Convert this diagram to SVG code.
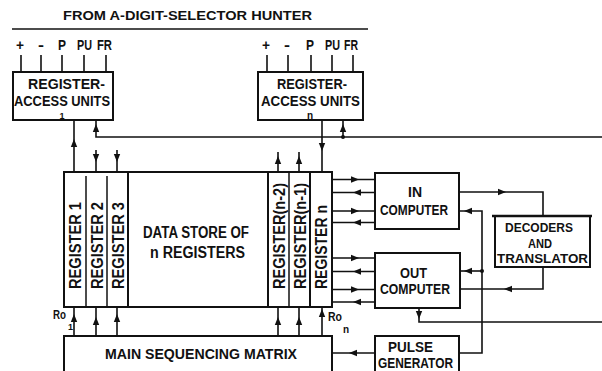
<svg xmlns="http://www.w3.org/2000/svg" width="602" height="371" viewBox="0 0 602 371">
<style>
.ln{stroke:#111;stroke-width:1.6;fill:none}
.bx{stroke:#111;stroke-width:2;fill:none}
.dv{stroke:#111;stroke-width:1.5;fill:none}
.t{font-family:"Liberation Sans",Arial,sans-serif;font-weight:bold;fill:#111}
</style>
<defs>
<path id="ar" d="M4,0 L-4,-3.2 L-4,3.2 Z" fill="#111"/>
</defs>
<rect width="602" height="371" fill="#fff"/>

<g id="title">
<text class="t" x="63" y="20" font-size="12" textLength="249" lengthAdjust="spacingAndGlyphs">FROM A-DIGIT-SELECTOR HUNTER</text>
<line class="ln" x1="12" y1="29" x2="368" y2="29"/>
</g>

<g id="rau1">
<text class="t" font-size="15" x="16" y="50" textLength="8" lengthAdjust="spacingAndGlyphs">+</text>
<text class="t" font-size="15" x="38" y="50" textLength="6" lengthAdjust="spacingAndGlyphs">-</text>
<text class="t" font-size="15" x="58" y="50" textLength="8" lengthAdjust="spacingAndGlyphs">P</text>
<text class="t" font-size="15" x="77" y="50" textLength="15" lengthAdjust="spacingAndGlyphs">PU</text>
<text class="t" font-size="15" x="97" y="50" textLength="15" lengthAdjust="spacingAndGlyphs">FR</text>
<rect class="bx" x="13" y="72" width="100" height="48"/>
<text class="t" font-size="15" x="28" y="89" textLength="77" lengthAdjust="spacingAndGlyphs">REGISTER-</text>
<text class="t" font-size="15" x="14" y="106" textLength="96" lengthAdjust="spacingAndGlyphs">ACCESS UNITS</text>
<text class="t" font-size="9" x="62" y="118.5" text-anchor="middle">1</text>
</g>

<g id="raun">
<text class="t" font-size="15" x="262" y="50" textLength="8" lengthAdjust="spacingAndGlyphs">+</text>
<text class="t" font-size="15" x="284" y="50" textLength="6" lengthAdjust="spacingAndGlyphs">-</text>
<text class="t" font-size="15" x="306" y="50" textLength="8" lengthAdjust="spacingAndGlyphs">P</text>
<text class="t" font-size="15" x="325" y="50" textLength="15" lengthAdjust="spacingAndGlyphs">PU</text>
<text class="t" font-size="15" x="344" y="50" textLength="14" lengthAdjust="spacingAndGlyphs">FR</text>
<rect class="bx" x="258" y="72" width="105" height="48"/>
<text class="t" font-size="15" x="277" y="89" textLength="70" lengthAdjust="spacingAndGlyphs">REGISTER-</text>
<text class="t" font-size="15" x="261" y="106" textLength="99" lengthAdjust="spacingAndGlyphs">ACCESS UNITS</text>
<text class="t" font-size="10" x="310" y="118.5" text-anchor="middle">n</text>
</g>

<g id="datastore">
<rect class="bx" x="64" y="172" width="268" height="135"/>
<line class="dv" x1="86" y1="176" x2="86" y2="307"/>
<line class="dv" x1="107" y1="176" x2="107" y2="307"/>
<line class="bx" x1="128" y1="172" x2="128" y2="307"/>
<line class="bx" x1="268" y1="172" x2="268" y2="307"/>
<line class="dv" x1="289" y1="172" x2="289" y2="307"/>
<line class="bx" x1="310" y1="172" x2="310" y2="307"/>
<text class="t" font-size="16" transform="translate(81,289) rotate(-90)" textLength="87" lengthAdjust="spacingAndGlyphs">REGISTER 1</text>
<text class="t" font-size="16" transform="translate(102.5,289) rotate(-90)" textLength="87" lengthAdjust="spacingAndGlyphs">REGISTER 2</text>
<text class="t" font-size="16" transform="translate(123.5,289) rotate(-90)" textLength="87" lengthAdjust="spacingAndGlyphs">REGISTER 3</text>
<text class="t" font-size="16" transform="translate(284.5,289) rotate(-90)" textLength="106" lengthAdjust="spacingAndGlyphs">REGISTER(n-2)</text>
<text class="t" font-size="16" transform="translate(305.5,289) rotate(-90)" textLength="106" lengthAdjust="spacingAndGlyphs">REGISTER(n-1)</text>
<text class="t" font-size="16" transform="translate(327,289) rotate(-90)" textLength="84" lengthAdjust="spacingAndGlyphs">REGISTER n</text>
<text class="t" font-size="16" x="143" y="238" textLength="106" lengthAdjust="spacingAndGlyphs">DATA STORE OF</text>
<text class="t" font-size="16" x="150" y="258" textLength="95" lengthAdjust="spacingAndGlyphs">n REGISTERS</text>
</g>

<g id="msm">
<rect class="bx" x="64" y="336" width="268" height="45"/>
<text class="t" font-size="15" x="105" y="359" textLength="192" lengthAdjust="spacingAndGlyphs">MAIN SEQUENCING MATRIX</text>
</g>

<g id="incomp">
<rect class="bx" x="375" y="173" width="84" height="56"/>
<text class="t" font-size="14" x="408" y="197" textLength="14" lengthAdjust="spacingAndGlyphs">IN</text>
<text class="t" font-size="14" x="380" y="215" textLength="68" lengthAdjust="spacingAndGlyphs">COMPUTER</text>
</g>

<g id="outcomp">
<rect class="bx" x="375" y="253" width="85" height="55"/>
<text class="t" font-size="14" x="400" y="278" textLength="27" lengthAdjust="spacingAndGlyphs">OUT</text>
<text class="t" font-size="14" x="380" y="294" textLength="70" lengthAdjust="spacingAndGlyphs">COMPUTER</text>
</g>

<g id="decoders">
<rect class="bx" x="495" y="216" width="95" height="51"/>
<line x1="492" y1="216" x2="592" y2="216" stroke="#111" stroke-width="2.6"/>
<text class="t" font-size="13" x="505" y="232" textLength="68" lengthAdjust="spacingAndGlyphs">DECODERS</text>
<text class="t" font-size="13" x="528" y="247.5" textLength="24" lengthAdjust="spacingAndGlyphs">AND</text>
<text class="t" font-size="13" x="497" y="262.5" textLength="91" lengthAdjust="spacingAndGlyphs">TRANSLATOR</text>
</g>

<g id="pulse">
<rect class="bx" x="375" y="336" width="84" height="45"/>
<text class="t" font-size="14" x="388" y="352" textLength="45" lengthAdjust="spacingAndGlyphs">PULSE</text>
<text class="t" font-size="14" x="378" y="368" textLength="75" lengthAdjust="spacingAndGlyphs">GENERATOR</text>
</g>

<g id="connectors">
<path class="ln" d="M21,55V72M41,55V72M62,55V72M84,55V72M106,55V72"/>
<path class="ln" d="M267,55V72M288,55V72M311,55V72M332,55V72M353,55V72"/>
<path class="ln" d="M74,120V172M96,120V137H602M96,150V172M117,150V172"/>
<path class="ln" d="M343,120V137M322,120V172M278,152V172M299,152V172"/>
<circle cx="343" cy="137" r="2" fill="#111"/>
<path class="ln" d="M74,307V336M96,307V336M117,307V336M278,307V336M299,307V336M322,307V336"/>
<text class="t" font-size="13" x="53" y="319" textLength="13" lengthAdjust="spacingAndGlyphs">Ro</text>
<text class="t" font-size="9" x="68" y="330">1</text>
<text class="t" font-size="13" x="328" y="321" textLength="14" lengthAdjust="spacingAndGlyphs">Ro</text>
<text class="t" font-size="10" x="343" y="333">n</text>
<path class="ln" d="M332,179.5H375M332,192.5H375M332,211H375M332,222.5H375"/>
<path class="ln" d="M332,258H375M332,271.5H375M332,289.5H375M332,302H375"/>
<path class="ln" d="M459,192H543V216"/>
<path class="ln" d="M459,211H482V353H459"/>
<path class="ln" d="M460,271H482"/>
<circle cx="482" cy="271" r="2" fill="#111"/>
<path class="ln" d="M543,267V289H460"/>
<path class="ln" d="M419,308V322H602"/>
<path class="ln" d="M332,353H375"/>
<use href="#ar" transform="translate(74,143) rotate(-90)"/>
<use href="#ar" transform="translate(96,128) rotate(-90)"/>
<use href="#ar" transform="translate(343,128) rotate(-90)"/>
<use href="#ar" transform="translate(96,158) rotate(90)"/>
<use href="#ar" transform="translate(117,158) rotate(90)"/>
<use href="#ar" transform="translate(322,147) rotate(90)"/>
<use href="#ar" transform="translate(278,160) rotate(-90)"/>
<use href="#ar" transform="translate(299,160) rotate(-90)"/>
<use href="#ar" transform="translate(74,318) rotate(-90)"/>
<use href="#ar" transform="translate(96,321) rotate(-90)"/>
<use href="#ar" transform="translate(117,318) rotate(-90)"/>
<use href="#ar" transform="translate(278,321) rotate(-90)"/>
<use href="#ar" transform="translate(299,321) rotate(-90)"/>
<use href="#ar" transform="translate(322,313) rotate(-90)"/>
<use href="#ar" transform="translate(355,179.5)"/>
<use href="#ar" transform="translate(357,192.5) rotate(180)"/>
<use href="#ar" transform="translate(355,211)"/>
<use href="#ar" transform="translate(357,222.5) rotate(180)"/>
<use href="#ar" transform="translate(355,258)"/>
<use href="#ar" transform="translate(357,271.5) rotate(180)"/>
<use href="#ar" transform="translate(355,289.5)"/>
<use href="#ar" transform="translate(357,302) rotate(180)"/>
<use href="#ar" transform="translate(502,192)"/>
<use href="#ar" transform="translate(468,211) rotate(180)"/>
<use href="#ar" transform="translate(468,271) rotate(180)"/>
<use href="#ar" transform="translate(508,289) rotate(180)"/>
<use href="#ar" transform="translate(419,315) rotate(90)"/>
<use href="#ar" transform="translate(353,353) rotate(180)"/>
</g>
</svg>
